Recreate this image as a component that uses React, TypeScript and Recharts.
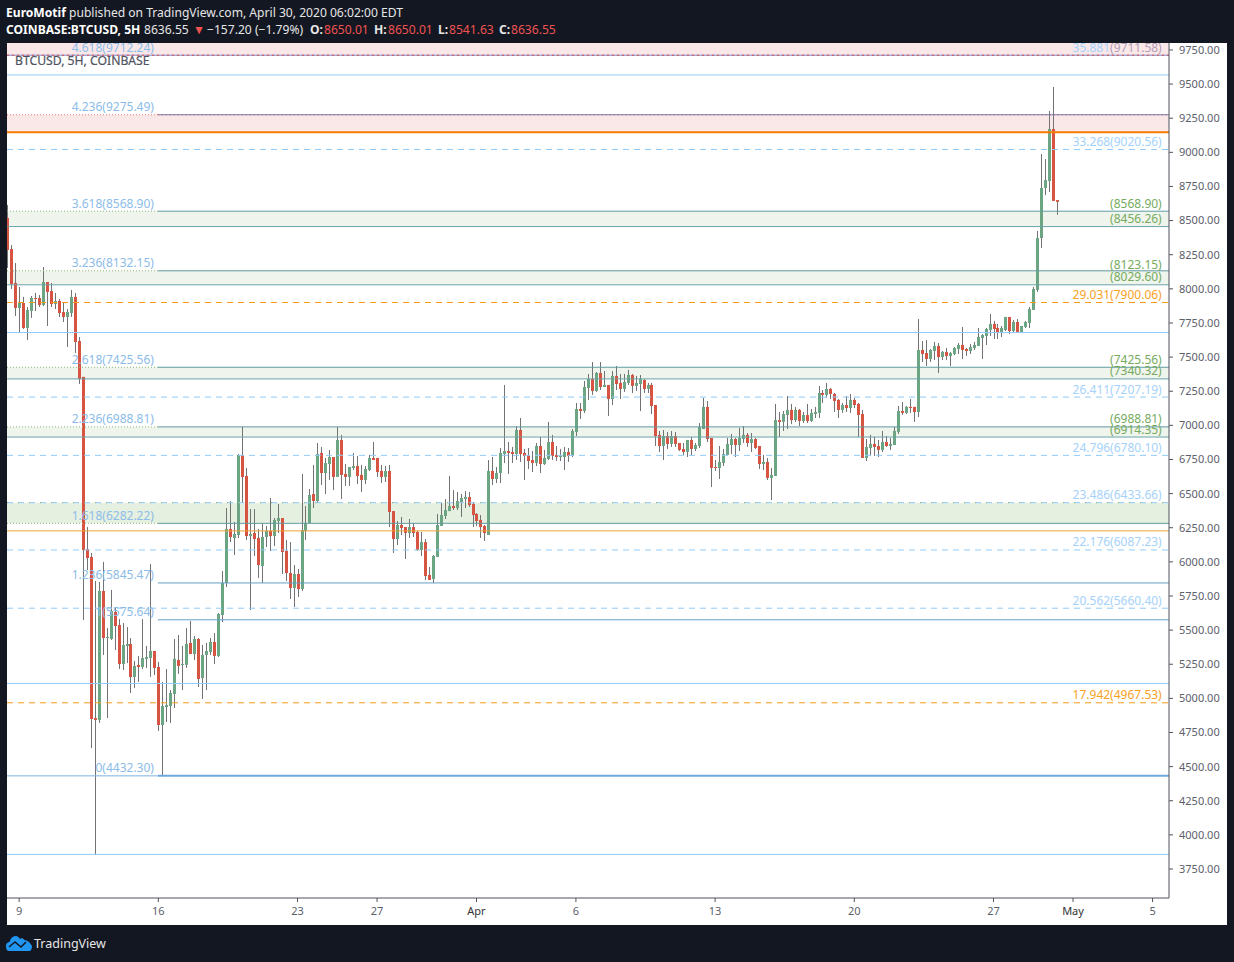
import { Bar, ComposedChart, ReferenceArea, ReferenceDot, ReferenceLine, XAxis, YAxis } from "recharts";

const opens = [
  8519, 8292, 8043, 7860, 7896, 7713, 7838, 7933, 7933, 7882,
  8050, 7984, 7889, 7911, 7830, 7794, 7823, 7941, 7618, 7355,
  6094, 6036, 4856, 4842, 5787, 5442, 5435, 5633, 5537, 5252,
  5384, 5398, 5157, 5245, 5230, 5289, 5296, 5347, 5230, 4805,
  4937, 4944, 5032, 5281, 5245, 5245, 5406, 5325, 5435, 5149,
  5318, 5340, 5413, 5311, 5611, 5845, 6241, 6175, 6197, 6783,
  6629, 6189, 6211, 6175, 5970, 6182, 6226, 6189, 6299, 6321,
  6080, 5918, 5809, 5911, 5801, 6226, 6285, 6497, 6446, 6798,
  6651, 6717, 6768, 6622, 6893, 6644, 6622, 6688, 6702, 6637,
  6600, 6673, 6761, 6761, 6666, 6622, 6666, 6372, 6167, 6270,
  6255, 6211, 6255, 6219, 6087, 6145, 5904, 5875, 6036, 6263,
  6336, 6372, 6409, 6394, 6438, 6460, 6475, 6424, 6351, 6307,
  6263, 6197, 6666, 6607, 6651, 6790, 6812, 6805, 6790, 6966,
  6798, 6783, 6746, 6724, 6849, 6717, 6754, 6878, 6783, 6768,
  6768, 6805, 6776, 6951, 7120, 7105, 7274, 7340, 7252, 7384,
  7281, 7296, 7193, 7362, 7311, 7267, 7311, 7369, 7289, 7303,
  7332, 7267, 7296, 7149, 6930, 6849, 6922, 6864, 6922, 6871,
  6827, 6805, 6893, 6827, 6849, 6973, 7135, 6908, 6695, 6688,
  6724, 6783, 6856, 6900, 6856, 6900, 6930, 6871, 6900, 6849,
  6717, 6732, 6615, 6629, 7039, 7025, 7076, 7113, 7039, 7113,
  7032, 7076, 7032, 7083, 7091, 7237, 7223, 7267, 7230, 7186,
  7113, 7149, 7127, 7186, 7157, 7083, 6761, 6834, 6864, 6849,
  6820, 6878, 6849, 6856, 6951, 7105, 7091, 7135, 7135, 7098,
  7552, 7530, 7486, 7545, 7582, 7501, 7538, 7508, 7523, 7559,
  7589, 7559, 7545, 7567, 7582, 7640, 7655, 7699, 7743, 7713,
  7677, 7699, 7794, 7691, 7757, 7684, 7721, 7750, 7845, 7992,
  8372, 8739, 8790, 9171, 8650,
];
const highs = [
  8614, 8321, 8189, 8014, 7941, 7867, 7948, 7970, 7955, 8160,
  8050, 8043, 7970, 7926, 7904, 7852, 7992, 7970, 7647, 7355,
  6255, 6065, 5860, 5853, 6000, 5515, 5794, 5669, 5581, 5552,
  5523, 5442, 5274, 5311, 5581, 5384, 5984, 5347, 5267, 5120,
  5215, 5061, 5435, 5464, 5384, 5515, 5567, 5457, 5442, 5391,
  5406, 5442, 5479, 5625, 5933, 6394, 6446, 6292, 6790, 6988,
  6688, 6387, 6387, 6241, 6285, 6263, 6468, 6321, 6424, 6321,
  6160, 6145, 5977, 5948, 6644, 6409, 6534, 6710, 6871, 6842,
  6761, 6820, 6768, 6988, 6930, 6717, 6695, 6798, 6776, 6710,
  6702, 6783, 6878, 6761, 6710, 6702, 6710, 6372, 6299, 6329,
  6255, 6314, 6285, 6226, 6219, 6167, 5962, 6050, 6351, 6431,
  6460, 6629, 6526, 6512, 6497, 6519, 6512, 6438, 6358, 6343,
  6270, 6746, 6768, 6695, 6834, 7296, 6878, 6842, 6995, 7054,
  6827, 6834, 6812, 6871, 6915, 6820, 7025, 6930, 6849, 6827,
  6842, 6834, 6973, 7164, 7164, 7325, 7376, 7464, 7391, 7464,
  7398, 7296, 7398, 7435, 7376, 7376, 7406, 7376, 7362, 7369,
  7340, 7311, 7311, 7149, 6959, 6966, 6951, 6959, 6951, 6871,
  6871, 6893, 6915, 6871, 7017, 7201, 7178, 6908, 6746, 6849,
  6827, 6908, 6937, 6908, 6981, 6995, 6944, 6944, 6908, 6849,
  6783, 6761, 6688, 7157, 7098, 7105, 7215, 7157, 7135, 7120,
  7098, 7157, 7120, 7135, 7289, 7259, 7311, 7274, 7237, 7193,
  7164, 7215, 7230, 7201, 7164, 7113, 6900, 6930, 6915, 6893,
  6959, 6922, 6908, 6988, 7142, 7171, 7142, 7193, 7135, 7779,
  7618, 7625, 7559, 7611, 7603, 7545, 7567, 7538, 7574, 7603,
  7721, 7567, 7596, 7611, 7713, 7669, 7713, 7816, 7765, 7743,
  7728, 7794, 7794, 7772, 7779, 7728, 7765, 7867, 8014, 8424,
  8988, 8951, 9303, 9479, 8650,
];
const lows = [
  8153, 7999, 7801, 7684, 7706, 7625, 7787, 7838, 7867, 7874,
  7728, 7867, 7852, 7794, 7757, 7574, 7794, 7530, 7303, 5574,
  5940, 4636, 3852, 4820, 5318, 4856, 5428, 5354, 5215, 5208,
  5259, 5039, 5076, 5120, 5215, 5223, 5157, 5171, 4761, 4432,
  4827, 4820, 4929, 5179, 5061, 5223, 5325, 5281, 5083, 4995,
  5061, 5318, 5252, 5303, 5559, 5816, 6145, 6050, 6175, 6431,
  6160, 5647, 6043, 5882, 5845, 6109, 6080, 6116, 6211, 5911,
  5860, 5728, 5669, 5743, 5787, 6160, 6285, 6394, 6431, 6563,
  6497, 6600, 6526, 6622, 6460, 6556, 6556, 6673, 6570, 6512,
  6570, 6666, 6746, 6622, 6578, 6585, 6255, 6065, 6123, 6197,
  6021, 6175, 6182, 6080, 6043, 5867, 5867, 5845, 6036, 6263,
  6314, 6372, 6380, 6380, 6329, 6394, 6402, 6255, 6263, 6175,
  6153, 6197, 6563, 6578, 6578, 6724, 6644, 6724, 6746, 6732,
  6600, 6680, 6658, 6702, 6651, 6710, 6746, 6746, 6739, 6739,
  6673, 6732, 6768, 6922, 7047, 7091, 7186, 7223, 7245, 7259,
  7281, 7069, 7149, 7259, 7193, 7245, 7296, 7237, 7252, 7105,
  7237, 7237, 7083, 6849, 6805, 6746, 6827, 6842, 6842, 6812,
  6783, 6768, 6783, 6812, 6834, 6973, 6878, 6548, 6666, 6607,
  6702, 6783, 6790, 6768, 6812, 6871, 6842, 6805, 6827, 6680,
  6673, 6600, 6453, 6629, 6915, 6959, 6973, 7010, 7025, 6995,
  7017, 7017, 7025, 7054, 7054, 7164, 7201, 7193, 7098, 7054,
  7091, 7098, 7091, 7127, 6915, 6761, 6739, 6776, 6776, 6768,
  6805, 6842, 6820, 6856, 6937, 7076, 7083, 7091, 7025, 7061,
  7464, 7435, 7464, 7479, 7384, 7479, 7479, 7435, 7515, 7523,
  7486, 7508, 7523, 7552, 7582, 7486, 7589, 7655, 7633, 7633,
  7647, 7691, 7669, 7677, 7677, 7677, 7713, 7713, 7845, 7977,
  8299, 8687, 8709, 8644, 8542,
];
const closes = [
  8285, 8036, 7860, 7896, 7713, 7845, 7933, 7926, 7882, 8050,
  7977, 7889, 7911, 7823, 7794, 7830, 7941, 7611, 7340, 6087,
  6028, 4849, 4842, 5787, 5442, 5450, 5640, 5530, 5252, 5391,
  5398, 5157, 5237, 5230, 5296, 5303, 5347, 5223, 4805, 4944,
  4951, 5039, 5289, 5237, 5252, 5398, 5325, 5435, 5142, 5318,
  5347, 5413, 5311, 5618, 5845, 6241, 6182, 6204, 6783, 6622,
  6189, 6204, 6167, 5977, 6182, 6226, 6189, 6307, 6321, 6072,
  5918, 5809, 5911, 5801, 6233, 6285, 6490, 6446, 6790, 6651,
  6724, 6768, 6622, 6893, 6637, 6622, 6695, 6702, 6629, 6600,
  6680, 6761, 6746, 6658, 6622, 6666, 6365, 6167, 6270, 6248,
  6211, 6255, 6211, 6087, 6145, 5896, 5867, 6043, 6270, 6343,
  6380, 6409, 6394, 6446, 6468, 6475, 6416, 6343, 6299, 6255,
  6211, 6666, 6607, 6651, 6798, 6812, 6798, 6790, 6966, 6790,
  6776, 6739, 6724, 6849, 6717, 6761, 6878, 6776, 6768, 6776,
  6805, 6776, 6959, 7120, 7105, 7281, 7340, 7252, 7384, 7281,
  7296, 7193, 7362, 7303, 7267, 7318, 7369, 7289, 7311, 7340,
  7267, 7296, 7142, 6922, 6849, 6922, 6864, 6922, 6864, 6820,
  6805, 6893, 6827, 6856, 6988, 7135, 6900, 6688, 6688, 6732,
  6790, 6864, 6900, 6856, 6908, 6930, 6871, 6900, 6834, 6717,
  6732, 6615, 6637, 7039, 7025, 7083, 7113, 7039, 7113, 7032,
  7076, 7032, 7091, 7098, 7237, 7223, 7267, 7230, 7179, 7113,
  7149, 7127, 7186, 7149, 7076, 6761, 6842, 6864, 6842, 6820,
  6878, 6849, 6864, 6959, 7105, 7091, 7135, 7127, 7098, 7552,
  7523, 7486, 7552, 7582, 7501, 7538, 7508, 7530, 7567, 7589,
  7552, 7545, 7574, 7589, 7647, 7662, 7706, 7743, 7706, 7677,
  7713, 7794, 7691, 7757, 7684, 7728, 7757, 7852, 7999, 8372,
  8739, 8797, 9171, 8644, 8637,
];

const priceTicks = [9750, 9500, 9250, 9000, 8750, 8500, 8250, 8000, 7750, 7500, 7250, 7000, 6750, 6500, 6250, 6000, 5750, 5500, 5250, 5000, 4750, 4500, 4250, 4000, 3750];
const timeTicks = [3, 38, 73, 93, 118, 143, 178, 213, 248, 268, 288];
const timeLabels = ["9", "16", "23", "27", "Apr", "6", "13", "20", "27", "May", "5"];

const pinkZones = [[9801, 9711.58], [9275.49, 9148]];
const paleZones = [[8568.9, 8456.26], [8132.15, 8029.6], [7425.56, 7340.32], [6988.81, 6914.35]];
const darkZones = [[6433.66, 6282.22]];

const solidBlue = [9567, 7680, 5109, 3857];
const dashedBlue = [9020.56, 7207.19, 6780.1, 6433.66, 6087.23, 5660.4];
const dashedOrange = [7900.06, 4967.53];
const zoneBottoms = [8456.26, 8029.6, 7340.32, 6914.35];
const fibLevels = [8568.9, 8132.15, 7425.56, 6988.81, 6282.22];
const fibPlain = [5845.47, 5575.64];

const leftRatios = ["4.618", "4.236", "3.618", "3.236", "2.618", "2.236", "1.618", "1.236", "1", "0"];
const leftPrices = [9712.24, 9275.49, 8568.9, 8132.15, 7425.56, 6988.81, 6282.22, 5845.47, 5575.64, 4432.3];
const greenPrices = [8568.9, 8456.26, 8123.15, 8029.6, 7425.56, 7340.32, 6988.81, 6914.35];
const blueRatios = ["33.268", "26.411", "24.796", "23.486", "22.176", "20.562"];
const bluePrices = [9020.56, 7207.19, 6780.1, 6433.66, 6087.23, 5660.4];
const orangeRatios = ["29.031", "17.942"];
const orangePrices = [7900.06, 4967.53];

const candles = opens.map((open, index) => ({
  index,
  open,
  close: closes[index],
  high: highs[index],
  low: lows[index],
  range: [lows[index], highs[index]],
}));

const X_MIN = -0.05;
const X_MAX = 292.13;
const ZONE_START = 37.9;
const LEFT_LABEL_X = 36.9;
const RIGHT_LABEL_X = 290.3;

const GREEN = "#6ba583";
const RED = "#d75442";
const WICK = "#737375";
const LEVEL_BLUE = "#90caf9";
const STEEL = "#64a0c8";
const AXIS = "#50535e";
const UI_FONT = "'Noto Sans', sans-serif";

function Candle(props: any) {
  const { x, y, width, height, payload } = props;
  const perPrice = height / (payload.high - payload.low);
  const top = y + (payload.high - Math.max(payload.open, payload.close)) * perPrice;
  const bottom = y + (payload.high - Math.min(payload.open, payload.close)) * perPrice;
  const column = Math.floor(x + width / 2) + 1;
  const color = payload.close >= payload.open ? GREEN : RED;
  return (
    <g>
      <rect x={column} y={y} width={1} height={height} fill={WICK} />
      <rect x={column - 1} y={top} width={3} height={Math.max(bottom - top, 1)} fill={color} />
    </g>
  );
}

function label(x: number, price: number, key: string, fill: string, body: any) {
  return (
    <ReferenceDot
      key={`${x}-${key}`}
      x={x}
      y={price}
      r={0}
      shape={(p: any) => (
        <text x={p.cx} y={p.cy - 3.5} textAnchor="end" fontSize={12} fontFamily={UI_FONT} fill={fill}>
          {body}
        </text>
      )}
    />
  );
}

function span(key: string, y: number, from: number, to: number, stroke: string, dash?: string, width = 1) {
  return (
    <ReferenceLine
      key={key}
      segment={[{ x: from, y }, { x: to, y }]}
      stroke={stroke}
      strokeDasharray={dash}
      strokeWidth={width}
    />
  );
}

function TimeTick(props: any) {
  const { x, y, payload } = props;
  const text = timeLabels[timeTicks.indexOf(payload.value)];
  const strong = text === "Apr" || text === "May";
  return (
    <text x={x} y={y + 11} textAnchor="middle" fontSize={11} fontFamily={UI_FONT} fill={strong ? "#333" : "#5d606b"}>
      {text}
    </text>
  );
}

function HeaderText({ left, color = "#e6e6e6", bold = false, children }: any) {
  return (
    <span style={{ position: "absolute", left, top: 21, fontSize: 12.1, color, fontWeight: bold ? 700 : 400, whiteSpace: "nowrap" }}>
      {children}
    </span>
  );
}

export default function App() {
  return (
    <div style={{ position: "absolute", left: 0, top: 0, width: 1234, height: 962, background: "#131722", overflow: "hidden", fontFamily: UI_FONT }}>
      <div style={{ position: "absolute", left: 6, top: 4, fontSize: 12.1, color: "#e6e6e6", whiteSpace: "nowrap" }}>
        <b style={{ color: "#fff" }}>EuroMotif</b> published on TradingView.com, April 30, 2020 06:02:00 EDT
      </div>
      <HeaderText left={6} color="#fff" bold>COINBASE:BTCUSD, 5H</HeaderText>
      <HeaderText left={144}>8636.55</HeaderText>
      <HeaderText left={193} color="#ef5350">▼</HeaderText>
      <HeaderText left={207}>−157.20 (−1.79%)</HeaderText>
      <HeaderText left={310} bold>O:</HeaderText>
      <HeaderText left={324} color="#ef5350">8650.01</HeaderText>
      <HeaderText left={374} bold>H:</HeaderText>
      <HeaderText left={388} color="#ef5350">8650.01</HeaderText>
      <HeaderText left={438} bold>L:</HeaderText>
      <HeaderText left={449} color="#ef5350">8541.63</HeaderText>
      <HeaderText left={499} bold>C:</HeaderText>
      <HeaderText left={511} color="#ef5350">8636.55</HeaderText>

      <div style={{ position: "absolute", left: 7, top: 43, width: 1220, height: 882, background: "#fff" }}>
        <ComposedChart width={1220} height={882} data={candles} margin={{ top: 0, right: 0, bottom: 0, left: 0 }}>
          <XAxis
            dataKey="index"
            type="number"
            domain={[X_MIN, X_MAX]}
            ticks={timeTicks}
            interval={0}
            height={27}
            stroke={AXIS}
            tickSize={4}
            tick={<TimeTick />}
            allowDataOverflow
          />
          <YAxis
            orientation="right"
            type="number"
            domain={[3537.5, 9801]}
            ticks={priceTicks}
            interval={0}
            width={58}
            stroke={AXIS}
            tickSize={4}
            tickMargin={6}
            tickFormatter={(v: number) => v.toFixed(2)}
            tick={{ fill: "#5d606b", fontSize: 11, fontFamily: UI_FONT }}
            allowDataOverflow
          />

          {pinkZones.map(([a, b]) => (
            <ReferenceArea key={a} y1={a} y2={b} fill="#fae8e8" fillOpacity={1} stroke="none" />
          ))}
          {paleZones.map(([a, b]) => (
            <ReferenceArea key={a} y1={a} y2={b} fill="#eff4ec" fillOpacity={1} stroke="none" />
          ))}
          {darkZones.map(([a, b]) => (
            <ReferenceArea key={a} y1={a} y2={b} fill="#e6f0e0" fillOpacity={1} stroke="none" />
          ))}

          {solidBlue.map((y) => span(`solid-${y}`, y, X_MIN, X_MAX, LEVEL_BLUE))}
          {dashedBlue.map((y) => span(`dash-${y}`, y, X_MIN, X_MAX, LEVEL_BLUE, "6 5"))}
          {span("zone-dots", 6433.66, X_MIN, X_MAX, "#8fb57a", "1 10")}
          {dashedOrange.map((y) => span(`orange-${y}`, y, X_MIN, X_MAX, "#f59b1a", "6 5"))}
          {span("line-orange-top", 9148, X_MIN, X_MAX, "#f57c00", undefined, 2)}
          {span("line-orange-low", 6227, X_MIN, X_MAX, "#eda033")}
          {zoneBottoms.map((y) => span(`bottom-${y}`, y, X_MIN, X_MAX, "#6aa3a8"))}
          {fibLevels.map((y) => span(`fibl-${y}`, y, X_MIN, ZONE_START, "#8fb57a", "1 2"))}
          {fibLevels.map((y) => span(`fibr-${y}`, y, ZONE_START, X_MAX, "#5f9aa0"))}
          {fibPlain.map((y) => span(`fibp-${y}`, y, ZONE_START, X_MAX, STEEL))}

          {span("top-base", 9711.58, X_MIN, X_MAX, "#7d86c4")}
          {span("top-dots", 9711.58, X_MIN, X_MAX, "#d9534f", "2 3")}
          {span("fib-4236-left", 9275.49, X_MIN, ZONE_START, "#e57373", "1 2")}
          {span("fib-4236-right", 9275.49, ZONE_START, X_MAX, "#6f78b8")}
          {span("fib-4236-dots", 9275.49, ZONE_START, X_MAX, "#d9534f", "1 3")}
          {span("fib-0-left", 4432.3, X_MIN, ZONE_START, "#7fb3e3")}
          {span("fib-0-right", 4432.3, ZONE_START, X_MAX, "#6fa8dc", undefined, 2)}

          <Bar dataKey="range" barSize={3} shape={<Candle />} isAnimationActive={false} />

          {leftRatios.map((ratio, i) =>
            label(LEFT_LABEL_X, leftPrices[i], ratio, "#8cbce8", `${ratio}(${leftPrices[i].toFixed(2)})`),
          )}
          {greenPrices.map((price) => label(RIGHT_LABEL_X, price, `g${price}`, "#76ab60", `(${price.toFixed(2)})`))}
          {blueRatios.map((ratio, i) =>
            label(RIGHT_LABEL_X, bluePrices[i], ratio, "#a5d2fb", `${ratio}(${bluePrices[i].toFixed(2)})`),
          )}
          {orangeRatios.map((ratio, i) =>
            label(RIGHT_LABEL_X, orangePrices[i], ratio, "#f7a21e", `${ratio}(${orangePrices[i].toFixed(2)})`),
          )}
          {label(
            RIGHT_LABEL_X,
            9711.58,
            "35.881",
            "#a5d2fb",
            <>
              35.881<tspan fill="#b39db8">(9711.58)</tspan>
            </>,
          )}
        </ComposedChart>
        <div style={{ position: "absolute", left: 8, top: 9, fontSize: 12.2, color: "#50535e", WebkitTextStroke: "0.2px #50535e" }}>BTCUSD, 5H, COINBASE</div>
      </div>

      <svg style={{ position: "absolute", left: 6, top: 935 }} width={26} height={16} viewBox="0 0 26 16">
        <path d="M0 11 C0 8 2 7 3.5 7 C4.5 3 7 1 9.5 1 C12 1 13 2.5 14 4 C15 3 17 3 18.5 5 C21 5 24 7 26 11 C26 14 25 16 23 16 L3 16 C1 16 0 14 0 11 Z" fill="#2196f3" />
        <path d="M3 12 L9 7 L15 12 L20 7" fill="none" stroke="#131722" strokeWidth={1.5} />
      </svg>
      <div style={{ position: "absolute", left: 34, top: 935, fontSize: 12.5, color: "#e6e6e6" }}>TradingView</div>
    </div>
  );
}
